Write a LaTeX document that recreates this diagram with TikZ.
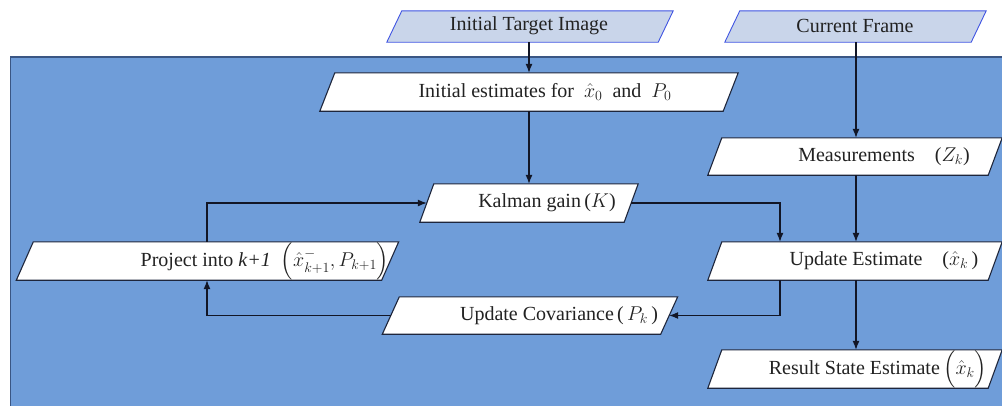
\documentclass[tikz,border=0pt]{standalone}
\usepackage{fix-cm}
\usepackage{amsmath}
\usepackage{fontspec}
\setmainfont{Liberation Serif}
\usetikzlibrary{arrows.meta}

\definecolor{panel}{RGB}{111,157,217}
\definecolor{panelrule}{RGB}{58,86,132}
\definecolor{srcfill}{RGB}{201,213,234}
\definecolor{srcrule}{RGB}{64,84,226}
\definecolor{boxrule}{RGB}{30,38,60}
\definecolor{ink}{RGB}{34,34,34}
\definecolor{wire}{RGB}{18,22,38}

% slanted outline around a named (invisible) box node:
% #1 node name, #2 drawing style, #3 half of the slant
\newcommand\slantbox[3]{%
  \filldraw[#2] ([xshift=-#3]#1.south west) -- ([xshift=#3]#1.north west)
    -- ([xshift=#3]#1.north east) -- ([xshift=-#3]#1.south east) -- cycle;}

\begin{document}
\begin{tikzpicture}[x=1pt,y=-1pt,
  lbl/.style={font=\fontsize{20}{24}\selectfont, text=ink, inner sep=0pt},
  frame/.style n args={2}{rectangle, inner sep=0pt,
    minimum width=#1, minimum height=#2},
  srcstyle/.style={draw=srcrule, fill=srcfill, line width=0.9pt},
  stepstyle/.style={draw=boxrule, fill=white, line width=1.1pt},
  arr/.style={draw=wire, line width=1.1pt, -{Latex[length=9pt,width=7pt]}}]

\useasboundingbox (0,0) rectangle (1002,405);

% blue working panel
\fill[panel] (10.5,57) rectangle (1012,415);
\draw[panelrule, line width=1.6pt] (10.5,415) -- (10.5,57) -- (1012,57);

% column guides for the vertical wires
\coordinate (cL) at (207,0);
\coordinate (cM) at (529,0);
\coordinate (cJ) at (780,0);
\coordinate (cR) at (856,0);

% inputs (width measured at mid height)
\node[frame={271}{31}] (tgt) at (530,26.5) {};
\node[frame={246}{31}] (cur) at (855.5,26.5) {};

% processing steps
\node[frame={403}{38}] (est) at (529,92) {};
\node[frame={204}{38}] (kal) at (529,203) {};
\node[frame={365}{38}] (prj) at (207.5,261) {};
\node[frame={278}{37}] (cov) at (530,315.5) {};
\node[frame={280}{37}] (mea) at (855,156.5) {};
\node[frame={280}{38}] (upd) at (855,261) {};
\node[frame={280}{38}] (res) at (855,369) {};

\slantbox{tgt}{srcstyle}{7.5pt}
\slantbox{cur}{srcstyle}{7.5pt}
\slantbox{est}{stepstyle}{7.5pt}
\slantbox{kal}{stepstyle}{7pt}
\slantbox{prj}{stepstyle}{8.5pt}
\slantbox{cov}{stepstyle}{8.5pt}
\slantbox{mea}{stepstyle}{7pt}
\slantbox{upd}{stepstyle}{7pt}
\slantbox{res}{stepstyle}{7pt}

% labels
\node[lbl] (tgtT) at (529,26) {Initial Target Image};
\node[lbl] (curT) at (855,26) {Current Frame};
\node[lbl] (estT) at (545,92) {Initial estimates for~~$\hat{x}_0$~~and~~$P_0$};
\node[lbl] (kalT) at (547,203) {Kalman gain\,($K$)};
\node[lbl] (prjT) at (265,261) {Project into \textit{k+1}\enskip$\Bigl(\hat{x}^{-}_{k+1},P_{k+1}\Bigr)$};
\node[lbl] (covT) at (559,316) {Update Covariance\,(\,$P_k$\,)};
\node[lbl] (meaT) at (884,157) {Measurements\quad($Z_k$)};
\node[lbl] (updT) at (884,261) {Update Estimate\quad($\hat{x}_k$\,)};
\node[lbl] (resT) at (878,369) {Result State Estimate\,$\Bigl(\hat{x}_k\Bigr)$};

% wires
\draw[arr] (tgt.south -| cM) -- (est.north -| cM);
\draw[arr] (est.south -| cM) -- (kal.north -| cM);
\draw[arr] (cur.south -| cR) -- (mea.north -| cR);
\draw[arr] (mea.south -| cR) -- (upd.north -| cR);
\draw[arr] (upd.south -| cR) -- (res.north -| cR);
\draw[arr] (kal.east) -| (upd.north -| cJ);
\draw[arr] (upd.south -| cJ) |- (cov.east);
\draw[arr] (cov.west) -| (prj.south -| cL);
\draw[arr] (prj.north -| cL) |- (kal.west);
\end{tikzpicture}
\end{document}
